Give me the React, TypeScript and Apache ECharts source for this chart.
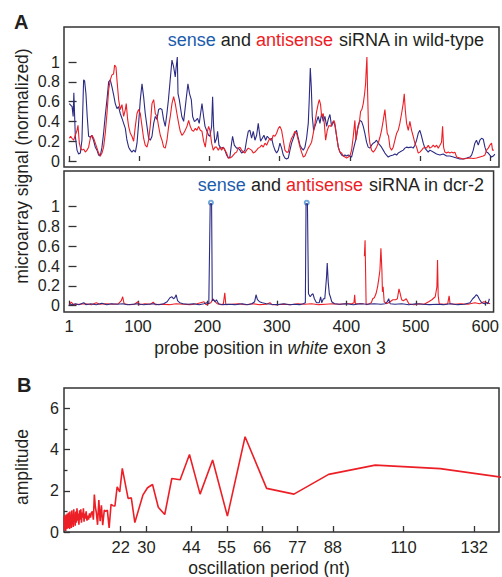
import React, { useEffect, useRef } from 'react';
import * as echarts from 'echarts';

const FONT = '"Liberation Sans", Arial, Helvetica, sans-serif';
const TXT = '#231f20';
const BLUE = '#2c2b84';
const RED = '#ec1f26';

const probeTicks = [1, 100, 200, 300, 400, 500, 600];
const signalTicks = [0, 0.2, 0.4, 0.6, 0.8, 1];
const periodTicks = [22, 30, 44, 55, 66, 77, 88, 110, 132];
const ampTicks = [0, 2, 4, 6];
const ampMinorTicks = [1, 3, 5];

// probe position, normalized signal — wild-type
const wtSense = [[1,0.58],[5,0.55],[6.5,0.45],[7.5,0.69],[9.6,0.25],[12,0.11],[14.3,0.07],[16.7,0.08],[19,0.21],[21.4,0.82],[22.8,0.81],[24.7,0.68],[26.5,0.45],[28.5,0.25],[30.8,0.24],[33,0.26],[35.4,0.21],[38,0.14],[40.4,0.11],[42.7,0.06],[45,0.05],[47.5,0.14],[49.8,0.28],[52,0.45],[54.6,0.62],[57,0.8],[59.3,0.82],[61.7,0.75],[64,0.67],[66.4,0.58],[68.8,0.53],[71,0.55],[73.5,0.48],[76,0.43],[78.3,0.38],[80.7,0.33],[83,0.21],[85.4,0.14],[87.8,0.11],[90,0.09],[92.5,0.11],[95,0.09],[97.3,0.18],[99.6,0.38],[102,0.62],[104.4,0.78],[106.7,0.65],[109,0.48],[111.5,0.35],[113.8,0.23],[116.2,0.21],[118.6,0.25],[121,0.38],[123.3,0.45],[125.7,0.42],[128,0.52],[130.4,0.53],[132.8,0.52],[135,0.42],[137.5,0.35],[139.8,0.48],[142,0.62],[144.5,0.82],[147,1.02],[149.4,0.95],[151.7,0.85],[153,0.95],[154.6,1.05],[155.6,0.68],[157.4,0.62],[161,0.45],[163.6,0.4],[166,0.55],[169.7,0.78],[172,0.68],[174.5,0.62],[176.4,0.45],[178.8,0.4],[181,0.41],[183.4,0.43],[185.8,0.38],[187.7,0.48],[189.7,0.58],[192,0.45],[194,0.35],[196.8,0.3],[199,0.26],[201,0.25],[203.4,0.35],[204.8,0.65],[206.2,0.35],[208,0.18],[210.5,0.23],[211.9,0.3],[213.8,0.16],[216.6,0.13],[220,0.14],[222.3,0.11],[224.7,0.06],[227.1,0.03],[229.4,0.04],[231.8,0.18],[233.2,0.25],[235.6,0.16],[238.9,0.13],[241.3,0.13],[243.7,0.11],[246,0.08],[248.4,0.09],[250.8,0.11],[253.1,0.21],[255.5,0.3],[257.9,0.31],[260.2,0.23],[262.6,0.3],[265,0.21],[267.4,0.26],[269.7,0.38],[271.1,0.3],[273,0.2],[275.4,0.23],[277.8,0.26],[280.2,0.21],[282.5,0.25],[284.9,0.23],[287.3,0.21],[288.7,0.23],[291,0.16],[293.4,0.11],[295.8,0.08],[298.2,0.11],[300.5,0.18],[302.9,0.13],[305.3,0.06],[307.6,0.03],[310,0.02],[312.4,0.03],[314.8,0.11],[317.1,0.18],[319.5,0.23],[321.9,0.28],[324.2,0.31],[326.6,0.23],[329,0.16],[331.3,0.13],[333.7,0.11],[336.1,0.14],[338.4,0.23],[340.8,0.38],[342.2,0.62],[343.7,0.94],[345.1,0.75],[346.5,0.45],[348.4,0.31],[350.3,0.35],[352.7,0.4],[355,0.45],[357.4,0.38],[359.8,0.48],[362.1,0.4],[364.5,0.45],[366.9,0.35],[369.2,0.42],[371.6,0.47],[374,0.35],[376.4,0.4],[378.7,0.36],[381.1,0.25],[383.5,0.14],[385.8,0.09],[388.2,0.06],[390.6,0.05],[393,0.06],[395.3,0.05],[397.7,0.06],[400,0.05],[402.4,0.04],[404.7,0.11],[409.5,0.25],[411.8,0.36],[414.2,0.41],[416.6,0.4],[419,0.35],[421.3,0.28],[423.7,0.19],[426,0.14],[428.4,0.13],[430.8,0.16],[433.2,0.18],[435.5,0.19],[437.9,0.21],[440.3,0.18],[442.7,0.16],[445,0.14],[447.4,0.11],[449.8,0.08],[452.1,0.06],[454.5,0.04],[456.9,0.05],[461.6,0.06],[464,0.07],[466.4,0.06],[468.7,0.08],[471,0.09],[475.8,0.11],[478.2,0.13],[480.6,0.14],[483,0.135],[485.3,0.138],[487.7,0.14],[490,0.13],[492.4,0.16],[494.8,0.21],[497.2,0.28],[499.5,0.31],[501.9,0.25],[504.3,0.18],[506.6,0.13],[509,0.11],[511.4,0.09],[513.7,0.11],[518.5,0.09],[523.2,0.07],[528,0.06],[532.7,0.07],[537.4,0.05],[542.2,0.05],[547,0.04],[551.7,0.03],[556.4,0.02],[561.1,0.02],[565.9,0.03],[570.6,0.04],[573,0.06],[575.4,0.11],[577.7,0.18],[580,0.21],[582.5,0.16],[584.8,0.21],[587.2,0.23],[589.6,0.22],[592,0.14],[594.3,0.09],[596.7,0.08],[599,0.06],[601.4,0.04],[603.8,0.05],[606.2,0.07]];

const wtAntisense = [[1,0.23],[2.9,0.25],[4.8,0.23],[7.2,0.21],[9.6,0.26],[12,0.31],[13.4,0.36],[15.3,0.18],[16.7,0.14],[19,0.11],[21.4,0.12],[23.8,0.09],[26.2,0.11],[28.5,0.14],[30.9,0.23],[33.3,0.26],[35.6,0.23],[38,0.18],[40.4,0.13],[42.7,0.08],[45.1,0.05],[47.5,0.08],[49.8,0.14],[52.2,0.28],[54.6,0.48],[57,0.72],[59.3,0.82],[61.7,0.87],[64,0.88],[65.5,0.97],[67.4,0.95],[68.8,0.82],[71.2,0.62],[73.5,0.52],[75.9,0.57],[78.3,0.45],[80.7,0.52],[82,0.58],[84,0.42],[85.4,0.35],[87.8,0.28],[90.1,0.25],[92.5,0.2],[94.9,0.35],[97.3,0.48],[99.6,0.52],[102,0.48],[104.4,0.35],[106.7,0.23],[109,0.16],[111.5,0.14],[113.8,0.21],[116.2,0.36],[118.6,0.58],[121,0.62],[123.3,0.48],[125.7,0.45],[128,0.35],[130.4,0.26],[132.8,0.21],[135.2,0.14],[137.5,0.13],[139.9,0.21],[142.3,0.35],[144.6,0.45],[147,0.58],[149.4,0.65],[151.7,0.58],[154,0.48],[156.5,0.38],[158.8,0.3],[161.2,0.26],[163.6,0.28],[165.9,0.31],[168.3,0.35],[170.7,0.41],[173,0.35],[175.4,0.31],[177.8,0.3],[180.2,0.33],[182.5,0.31],[184.9,0.35],[187.3,0.31],[189.7,0.3],[192,0.2],[194.4,0.14],[196.8,0.28],[199.1,0.35],[201,0.31],[203.4,0.18],[205.7,0.11],[208.1,0.14],[210.5,0.14],[212.9,0.11],[215.2,0.14],[217.6,0.11],[220,0.14],[222.3,0.11],[224.7,0.08],[227.1,0.03],[229.4,0.03],[231.8,0.04],[236.6,0.08],[238.9,0.09],[241.3,0.13],[243.7,0.14],[246,0.11],[248.4,0.09],[250.8,0.08],[253.1,0.11],[255.5,0.13],[260.2,0.11],[262.6,0.08],[265,0.09],[267.4,0.11],[269.7,0.13],[272.1,0.14],[274.5,0.16],[276.8,0.14],[279.2,0.18],[281.6,0.16],[284,0.2],[286.3,0.23],[288.7,0.21],[291,0.26],[293.4,0.25],[295.8,0.28],[298.2,0.33],[300.5,0.35],[302.9,0.31],[305.3,0.21],[307.6,0.11],[310,0.09],[312.4,0.09],[314.8,0.18],[317.1,0.23],[319.5,0.26],[321.9,0.3],[324.2,0.28],[326.6,0.21],[329,0.14],[331.3,0.09],[333.7,0.04],[336.1,0.05],[338.4,0.09],[340.8,0.13],[343.2,0.16],[345.5,0.19],[347.9,0.28],[350.3,0.38],[352.7,0.5],[355,0.58],[356.5,0.62],[358.3,0.57],[359.8,0.45],[362.1,0.48],[363.6,0.38],[365.5,0.21],[367.8,0.31],[370.2,0.36],[372.6,0.35],[374.9,0.38],[377.3,0.41],[378.7,0.38],[381.1,0.25],[383.5,0.14],[385.8,0.09],[388.2,0.08],[390.6,0.05],[393,0.04],[395.3,0.03],[397.7,0.04],[400,0.05],[402.4,0.11],[404.8,0.25],[407.1,0.41],[408.5,0.21],[410.4,0.31],[413.3,0.38],[415.2,0.5],[417,0.52],[419,0.58],[420.9,0.68],[422.3,0.78],[423.2,0.92],[424.2,1.05],[425.1,0.72],[426.5,0.31],[428.4,0.18],[430.8,0.11],[433.2,0.09],[435.5,0.11],[437.9,0.14],[440.3,0.18],[442.7,0.24],[445,0.31],[447.4,0.41],[449.8,0.52],[451.2,0.41],[453.1,0.28],[455,0.25],[456.9,0.14],[459.2,0.11],[461.6,0.14],[464,0.21],[466.4,0.28],[468.7,0.31],[471,0.38],[473.5,0.48],[475.8,0.58],[477.3,0.68],[478.7,0.52],[480.6,0.38],[483,0.31],[485.3,0.4],[487.7,0.31],[490,0.25],[492.4,0.18],[494.8,0.14],[497.2,0.08],[499.5,0.09],[502,0.11],[504.3,0.13],[506.6,0.14],[509,0.13],[511.4,0.16],[513.7,0.13],[516.1,0.14],[518.5,0.16],[520.9,0.14],[523.2,0.16],[525.6,0.13],[528,0.16],[530.3,0.19],[531.8,0.35],[533.2,0.14],[535,0.09],[537.4,0.08],[539.8,0.09],[542.2,0.08],[544.5,0.09],[547,0.08],[549.3,0.09],[551.7,0.04],[556.4,0.03],[561.1,0.02],[565.9,0.025],[570.6,0.03],[575.4,0.025],[580,0.03],[584.8,0.04],[589.6,0.05],[592,0.06],[594.3,0.11],[596.7,0.13],[599,0.16],[601.4,0.18],[602.8,0.11],[604.7,0.11]];

// probe position, normalized signal — dcr-2
const dcrSense = [[1,0.02],[5,0.01],[10,0.02],[15,0.01],[22,0.03],[25,0.01],[32,0.02],[40,0.01],[48,0.025],[55,0.01],[62,0.02],[70,0.015],[78,0.02],[85,0.01],[92,0.015],[100,0.02],[108,0.01],[115,0.015],[122,0.02],[130,0.01],[137,0.02],[142,0.04],[146,0.08],[149,0.09],[151,0.07],[153,0.08],[155,0.11],[157,0.05],[160,0.03],[165,0.02],[172,0.015],[180,0.02],[188,0.01],[195,0.02],[199,0.03],[202,0.02],[204,1.03],[206,1.03],[207,0.05],[209,0.06],[211,0.04],[213,0.06],[216,0.02],[222,0.01],[230,0.015],[240,0.01],[250,0.02],[258,0.01],[264,0.02],[268,0.04],[270,0.11],[272,0.06],[275,0.04],[279,0.03],[285,0.02],[292,0.015],[300,0.01],[310,0.02],[318,0.01],[325,0.015],[333,0.01],[338,0.02],[341,0.03],[342,1.03],[344,1.03],[345.5,0.12],[348,0.09],[350,0.11],[352,0.12],[354,0.07],[357,0.03],[361,0.03],[363,0.09],[364.5,0.03],[367,0.07],[369,0.07],[371.5,0.29],[372.5,0.43],[374,0.23],[375.5,0.12],[377,0.09],[379,0.04],[383,0.02],[390,0.015],[400,0.02],[410,0.01],[420,0.02],[430,0.015],[440,0.02],[450,0.015],[456,0.02],[459,0.04],[461,0.07],[463,0.02],[470,0.015],[480,0.02],[490,0.01],[500,0.02],[510,0.015],[520,0.01],[530,0.015],[540,0.01],[550,0.02],[560,0.01],[570,0.015],[578,0.03],[582,0.07],[585,0.09],[587,0.11],[589,0.1],[592,0.06],[595,0.03],[599,0.02],[602,0.03],[604,0.02],[606,0.07]];

const dcrAntisense = [[1,0.01],[4,0.035],[7,0.01],[15,0.015],[25,0.02],[33,0.01],[40,0.03],[45,0.015],[55,0.02],[65,0.015],[72,0.02],[76,0.05],[78,0.09],[80,0.02],[88,0.01],[95,0.015],[100,0.04],[102,0.01],[110,0.02],[118,0.015],[122,0.035],[125,0.01],[135,0.015],[145,0.01],[155,0.02],[165,0.015],[175,0.01],[185,0.02],[195,0.04],[198,0.01],[205,0.03],[208,0.07],[211,0.04],[214,0.02],[220,0.01],[223,0.02],[225,0.13],[226.5,0.01],[235,0.015],[245,0.02],[255,0.01],[265,0.02],[275,0.01],[285,0.015],[290,0.03],[293,0.01],[300,0.01],[310,0.015],[320,0.01],[330,0.02],[340,0.015],[350,0.02],[360,0.01],[370,0.015],[380,0.02],[390,0.015],[400,0.02],[408,0.02],[411,0.03],[412,0.11],[413,0.02],[420,0.02],[425,0.02],[425.5,null],[426,0.5],[427,0.66],[428.5,0.01],[433,0.02],[436,0.03],[438,0.07],[440.3,0.08],[442.7,0.12],[445,0.19],[446.5,0.26],[448.4,0.36],[449.8,0.58],[451.2,0.36],[452,0.14],[453,0.19],[454.5,0.04],[458,0.02],[463,0.04],[467,0.06],[471,0.06],[473.5,0.07],[475.8,0.17],[477.3,0.13],[479.6,0.06],[482,0.05],[484.4,0.06],[486.3,0.07],[490,0.02],[497,0.01],[505,0.02],[512,0.015],[518.5,0.04],[523.2,0.06],[528,0.09],[530.4,0.19],[531.3,0.46],[532.3,0.1],[533.7,0.02],[540,0.015],[546,0.02],[548,0.1],[549.3,0.02],[555,0.015],[565,0.02],[575,0.015],[585,0.03],[592,0.02],[598,0.04],[603,0.03],[607,0.02]];

const dcrClipped = [[205, 1.04], [343, 1.04]];

// oscillation period (nt), amplitude
const periodNoise = [4.4,4.5,4.6,4.7,4.8,4.9,5.0,5.1,5.2,5.3,5.4,5.5,5.6,5.7,5.8,5.9,6.0,6.1,6.2,6.35,6.5,6.65,6.8,6.95,7.1,7.25,7.4,7.55,7.7,7.85,8.0,8.2,8.4,8.6,8.8,9.0,9.2,9.4,9.6,9.8,10.0,10.2,10.4,10.6,10.8,11.0,11.25,11.5,11.75,12.0,12.3,12.6,12.9];
const ampNoise = [0.75,0.1,0.8,0.35,0.6,0.05,0.85,0.3,0.7,0.15,0.9,0.4,0.65,0.2,0.95,0.3,0.8,0.15,1.0,0.45,0.75,0.2,1.05,0.35,0.85,0.25,1.1,0.5,0.8,0.3,1.0,0.45,1.15,0.55,0.9,0.35,1.05,0.6,1.1,0.45,0.95,0.7,1.15,0.5,0.9,0.65,1.0,0.55,0.8,0.6,0.9,0.7,0.95];
const periodMain = [13.2,13.5,13.8,14.1,14.45,14.8,15.2,15.6,16.0,16.4,16.9,17.3,17.85,18.4,19.0,19.6,20.2,20.9,21.7,22.5,24.3,25.3,26.4,28.9,30.35,31.9,33.7,35.7,37.9,40.5,43.4,46.7,50.6,55.2,60.7,67.4,75.9,86.7,101.2,121.4,151.75];
const ampMain = [1.0,0.6,1.82,1.25,0.9,0.35,1.55,0.52,1.3,0.33,1.06,1.0,1.06,0.2,1.34,1.28,1.26,2.2,1.95,3.09,1.63,1.66,0.46,1.79,2.15,2.31,1.2,0.85,2.6,2.54,3.77,1.84,3.5,0.77,4.63,2.12,1.84,2.8,3.25,3.08,2.42];

const spectrum = [
  ...periodNoise.map((t, i) => [t, ampNoise[i]]),
  ...periodMain.map((t, i) => [t, ampMain[i]]),
];

const tickLine = { color: '#333', width: 1.3 };
const gridBox = { show: true, borderColor: '#333', borderWidth: 1.5, backgroundColor: 'transparent' };

function probeAxis(gridIndex: number, labels: boolean) {
  return {
    type: 'value', gridIndex, min: -6.5, max: 612,
    axisLine: { show: false }, splitLine: { show: false },
    axisTick: { show: true, inside: true, length: 5, customValues: probeTicks, lineStyle: tickLine },
    axisLabel: { show: labels, customValues: probeTicks, fontSize: 16.5, fontFamily: FONT, color: TXT, margin: 5 },
  };
}
function signalAxis(gridIndex: number, min: number, max: number) {
  return {
    type: 'value', gridIndex, min, max,
    axisLine: { show: false }, splitLine: { show: false },
    axisTick: { show: true, inside: true, length: 8, customValues: signalTicks, lineStyle: tickLine },
    axisLabel: { customValues: signalTicks, fontSize: 16, fontFamily: FONT, color: TXT, margin: 4 },
  };
}

function legendText(y: number, tail: string) {
  const base = { fontSize: 18, fontFamily: FONT };
  return {
    type: 'text', x: 484, y,
    style: {
      text: '{b|sense}{k| and }{r|antisense}{k| ' + tail + '}',
      align: 'right', verticalAlign: 'middle', fontSize: 18, fontFamily: FONT, fill: TXT,
      rich: { b: { ...base, fill: '#1b5cad' }, r: { ...base, fill: '#ee1c25' }, k: { ...base, fill: TXT } },
    },
  };
}

const option = {
  animation: false,
  backgroundColor: '#fff',
  grid: [
    { left: 64, top: 27, width: 435, height: 140, ...gridBox },
    { left: 64, top: 171, width: 435, height: 141, ...gridBox },
    { left: 64, top: 388, width: 435, height: 144, ...gridBox },
  ],
  xAxis: [
    probeAxis(0, false),
    probeAxis(1, true),
    {
      type: 'value', gridIndex: 2, min: 4.36, max: 139.7,
      axisLine: { show: false }, splitLine: { show: false },
      axisTick: { show: true, inside: true, length: 6, customValues: periodTicks, lineStyle: tickLine },
      axisLabel: { customValues: periodTicks, fontSize: 16.5, fontFamily: FONT, color: TXT, margin: 6 },
    },
  ],
  yAxis: [
    signalAxis(0, -0.0606, 1.354),
    signalAxis(1, -0.064, 1.36),
    {
      type: 'value', gridIndex: 2, min: 0, max: 7,
      axisLine: { show: false }, splitLine: { show: false },
      axisTick: { show: true, inside: true, length: 6, customValues: ampTicks, lineStyle: tickLine },
      axisLabel: { customValues: ampTicks, fontSize: 16, fontFamily: FONT, color: TXT, margin: 5 },
    },
    {
      type: 'value', gridIndex: 2, min: 0, max: 7, position: 'left',
      axisLine: { show: false }, splitLine: { show: false },
      axisTick: { show: true, inside: true, length: 3.5, customValues: ampMinorTicks, lineStyle: tickLine },
      axisLabel: { show: false },
    },
  ],
  series: [
    { type: 'line', xAxisIndex: 0, yAxisIndex: 0, data: wtSense, showSymbol: false, lineStyle: { color: BLUE, width: 1.1 } },
    { type: 'line', xAxisIndex: 0, yAxisIndex: 0, data: wtAntisense, showSymbol: false, lineStyle: { color: RED, width: 1.1 } },
    { type: 'line', xAxisIndex: 1, yAxisIndex: 1, data: dcrAntisense, showSymbol: false, connectNulls: false, lineStyle: { color: RED, width: 1.1 } },
    { type: 'line', xAxisIndex: 1, yAxisIndex: 1, data: dcrSense, showSymbol: false, lineStyle: { color: BLUE, width: 1.1 } },
    { type: 'scatter', xAxisIndex: 1, yAxisIndex: 1, data: dcrClipped, symbol: 'emptyCircle', symbolSize: 4, itemStyle: { color: '#4f93d2', borderColor: '#4f93d2', borderWidth: 1 } },
    { type: 'line', xAxisIndex: 2, yAxisIndex: 2, data: spectrum, showSymbol: false, clip: true, lineStyle: { color: RED, width: 1.6 } },
  ],
  graphic: [
    { type: 'text', x: 14, y: 22, style: { text: 'A', fontSize: 20, fontWeight: 'bold', fontFamily: FONT, fill: TXT, verticalAlign: 'middle' } },
    { type: 'text', x: 17, y: 385, style: { text: 'B', fontSize: 20, fontWeight: 'bold', fontFamily: FONT, fill: TXT, verticalAlign: 'middle' } },
    legendText(40, 'siRNA in wild-type'),
    legendText(185, 'siRNA in dcr-2'),
    {
      type: 'text', x: 22, y: 166, rotation: Math.PI / 2,
      style: { text: 'microarray signal (normalized)', fontSize: 17.5, fontFamily: FONT, fill: TXT, align: 'center', verticalAlign: 'middle' },
    },
    {
      type: 'text', x: 270, y: 348,
      style: {
        text: '{a|probe position in }{i|white}{a| exon 3}', align: 'center', verticalAlign: 'middle',
        fontSize: 17.5, fontFamily: FONT, fill: TXT,
        rich: {
          a: { fontSize: 17.5, fontFamily: FONT, fill: TXT },
          i: { fontSize: 17.5, fontFamily: FONT, fill: TXT, fontStyle: 'italic' },
        },
      },
    },
    {
      type: 'text', x: 22, y: 467, rotation: Math.PI / 2,
      style: { text: 'amplitude', fontSize: 17.5, fontFamily: FONT, fill: TXT, align: 'center', verticalAlign: 'middle' },
    },
    {
      type: 'text', x: 269, y: 568,
      style: { text: 'oscillation period (nt)', fontSize: 17.5, fontFamily: FONT, fill: TXT, align: 'center', verticalAlign: 'middle' },
    },
  ],
};

export default function App() {
  const ref = useRef<HTMLDivElement>(null);
  useEffect(() => {
    const chart = echarts.init(ref.current as HTMLDivElement, null, { renderer: 'svg' });
    chart.setOption(option as any);
    return () => chart.dispose();
  }, []);
  return (
    <div
      ref={ref}
      style={{ position: 'fixed', left: 0, top: 0, width: 502, height: 577, background: '#fff' }}
    />
  );
}
